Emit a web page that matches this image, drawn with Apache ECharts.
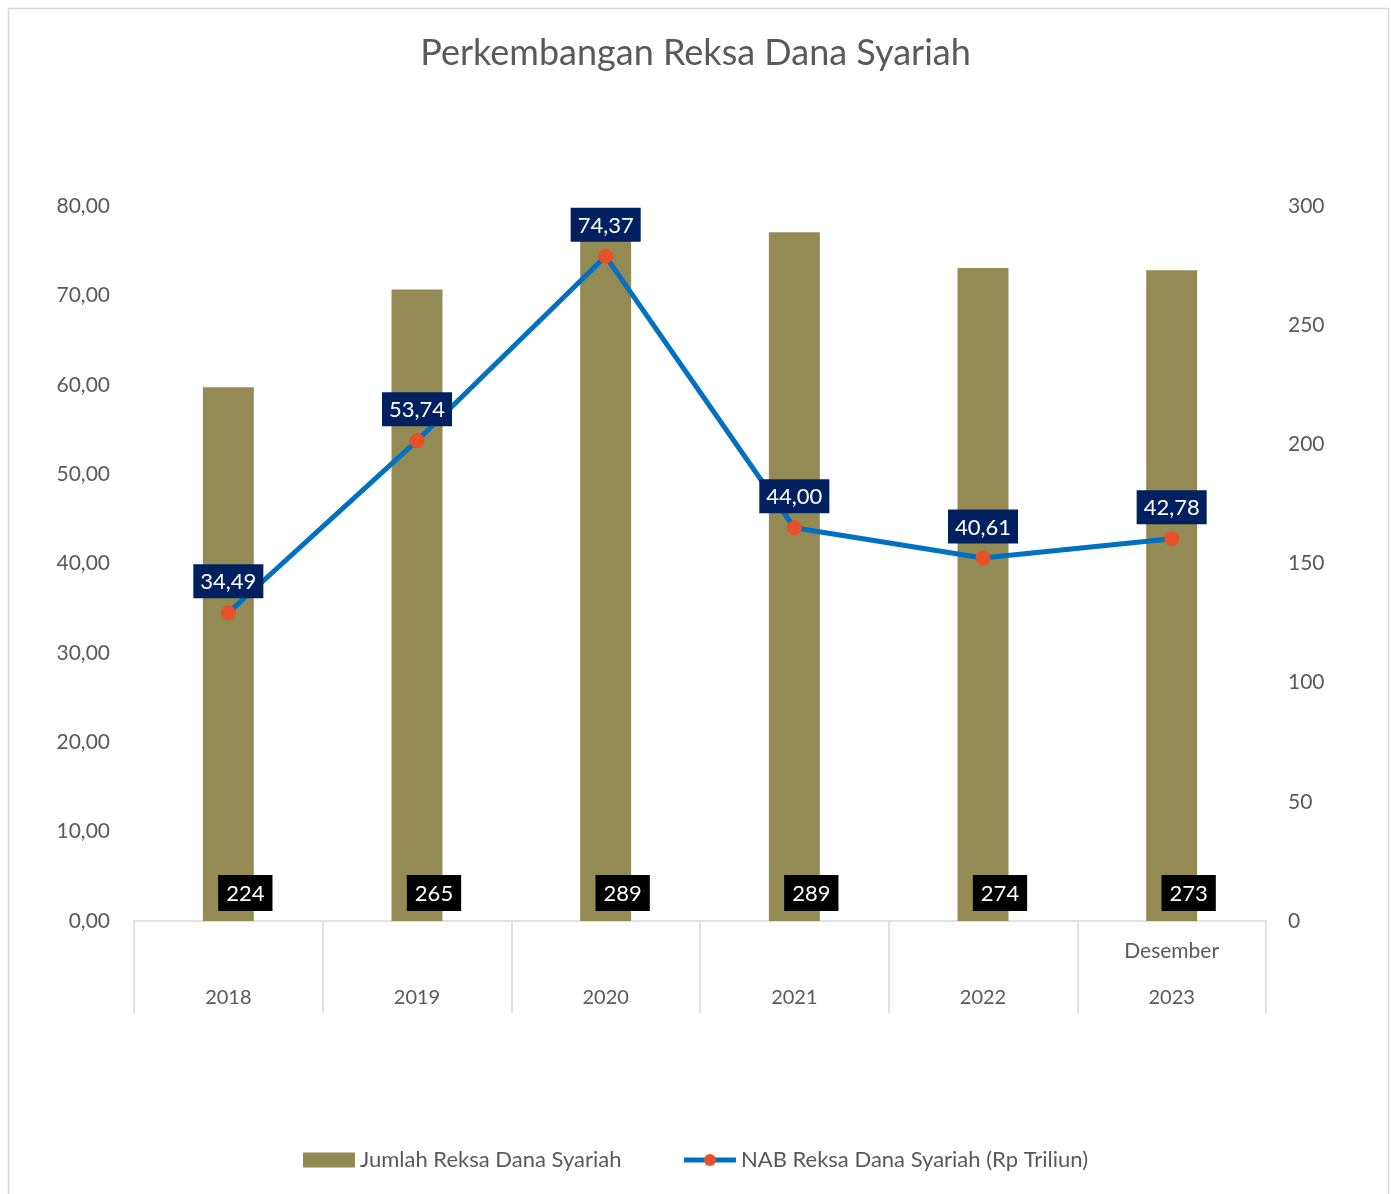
<!DOCTYPE html>
<html>
<head>
<meta charset="utf-8">
<script src="https://cdn.jsdelivr.net/npm/echarts@6/dist/echarts.min.js"></script>
<style>
html,body{margin:0;padding:0;background:#fff;}
#c{width:1391px;height:1194px;}
</style>
</head>
<body>
<div id="c"></div>
<script>
const categories = ['2018','2019','2020','2021','2022','2023'];
const topLabels = ['','','','','','Desember'];
const jumlahReksaDana = [224, 265, 289, 289, 274, 273];
const nabReksaDana = [34.49, 53.74, 74.37, 44.00, 40.61, 42.78];
const leftTicks = {min:0, max:80, interval:10};
const rightTicks = {min:0, max:300, interval:50};

const FONT = 'Lato, "Open Sans", sans-serif';
const chart = echarts.init(document.getElementById('c'));
const fmt = v => v.toFixed(2).replace('.', ',');

chart.setOption({
  backgroundColor:'#fff',
  textStyle:{fontFamily:FONT},
  graphic:[{type:'rect', shape:{x:8.5,y:8.5,width:1380,height:1200}, style:{fill:'none', stroke:'#d9d9d9', lineWidth:1.5}, silent:true}],
  title:{text:'Perkembangan Reksa Dana Syariah', left:'center', top:30,
    textStyle:{fontFamily:FONT, fontSize:36, fontWeight:'normal', color:'#595959'}},
  legend:{bottom:18, left:'center', itemGap:60, itemWidth:52, itemHeight:15,
    textStyle:{fontFamily:FONT, fontSize:22, color:'#595959'},
    data:[{name:'Jumlah Reksa Dana Syariah', icon:'rect'},
          {name:'NAB Reksa Dana Syariah (Rp Triliun)', itemStyle:{color:'#e8502a'}, lineStyle:{width:5, color:'#0070c0'}}]},
  grid:{left:134, right:125, top:206, bottom:273},
  xAxis:{type:'category', data:categories,
    axisLine:{lineStyle:{color:'#d9d9d9', width:1.5}},
    axisTick:{show:true, interval:0, length:92, lineStyle:{color:'#d9d9d9', width:1.5}},
    axisLabel:{interval:0, margin:6,
      formatter:(v, i) => '{t|' + (topLabels[i] || ' ') + '}\n{y|' + v + '}',
      rich:{t:{fontFamily:FONT, fontSize:21, color:'#595959', lineHeight:48},
            y:{fontFamily:FONT, fontSize:20, color:'#595959', lineHeight:46}}}},
  yAxis:[
    {type:'value', min:leftTicks.min, max:leftTicks.max, interval:leftTicks.interval,
     splitLine:{show:false}, axisLine:{show:false}, axisTick:{show:false},
     axisLabel:{formatter:fmt, fontFamily:FONT, fontSize:21, color:'#595959', margin:24}},
    {type:'value', min:rightTicks.min, max:rightTicks.max, interval:rightTicks.interval,
     splitLine:{show:false}, axisLine:{show:false}, axisTick:{show:false},
     axisLabel:{fontFamily:FONT, fontSize:21, color:'#595959', margin:22}}
  ],
  series:[
    {name:'Jumlah Reksa Dana Syariah', type:'bar', yAxisIndex:1, data:jumlahReksaDana,
     barWidth:'27%', itemStyle:{color:'#948a54'},
     label:{show:true, position:'insideBottom', offset:[17,-5], color:'#fff', backgroundColor:'#000',
       fontFamily:FONT, fontSize:22, padding:[8,8,6,8]}},
    {name:'NAB Reksa Dana Syariah (Rp Triliun)', type:'line', yAxisIndex:0, data:nabReksaDana,
     symbol:'circle', symbolSize:15,
     lineStyle:{color:'#0070c0', width:5}, itemStyle:{color:'#e8502a'},
     label:{show:true, position:'top', distance:7, formatter:p => fmt(p.value), color:'#fff',
       backgroundColor:'#002060', fontFamily:FONT, fontSize:22, padding:[7,7,5,7]},
     z:5}
  ]
});
</script>
</body>
</html>
